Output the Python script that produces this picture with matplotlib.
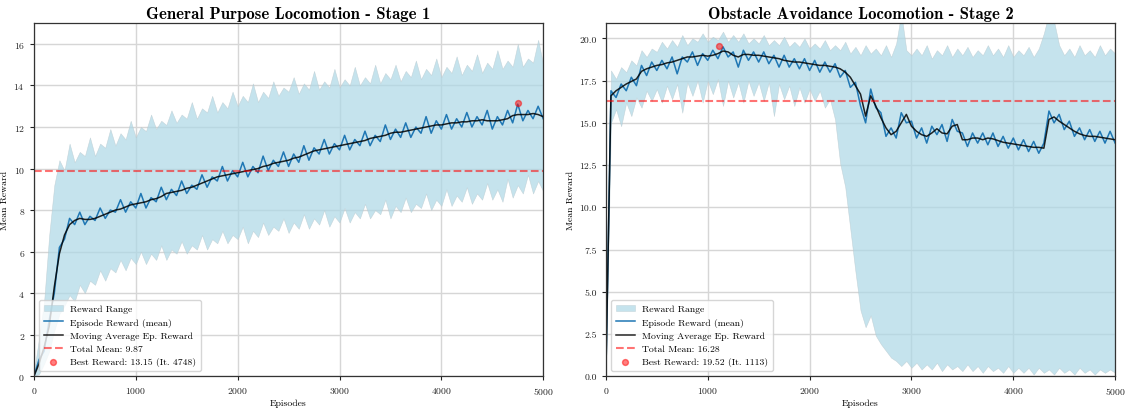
import numpy as np
import matplotlib
matplotlib.use("Agg")
import matplotlib.pyplot as plt

plt.rcParams['font.family'] = ['cmr10', 'DejaVu Serif']
plt.rcParams['axes.formatter.use_mathtext'] = True
plt.rcParams['mathtext.fontset'] = 'cm'

episodes = np.arange(0, 5001, 50)

# ---- Stage 1 : General Purpose Locomotion ----
s1_mean = [0.0, 0.8, 1.2, 2.7, 4.0, 6.2, 6.6, 7.6, 7.3, 7.9, 7.3, 7.7, 7.5, 8.1, 7.6, 8.0, 7.9, 8.5, 7.9, 8.4,
           8.1, 8.8, 8.1, 8.6, 8.4, 9.1, 8.5, 9.0, 8.7, 9.4, 8.8, 9.2, 9.0, 9.7, 9.1, 9.6, 9.4, 10.1, 9.4, 9.9,
           9.6, 10.3, 9.6, 10.1, 9.8, 10.6, 9.9, 10.4, 10.1, 10.8, 10.1, 10.7, 10.3, 11.1, 10.4, 11.0, 10.7, 11.4, 10.7, 11.2,
           10.9, 11.6, 10.9, 11.4, 11.1, 11.8, 11.1, 11.6, 11.3, 12.1, 11.4, 11.9, 11.5, 12.2, 11.5, 12.0, 11.7, 12.5, 11.7, 12.3,
           11.9, 12.6, 11.9, 12.4, 12.0, 12.7, 12.0, 12.5, 12.1, 12.8, 11.9, 12.5, 12.1, 12.8, 12.2, 13.1, 12.3, 12.8, 12.4, 13.0,
           12.4]
s1_ma = [0.0, 0.6, 1.4, 2.4, 4.3, 5.9, 6.8, 7.3, 7.5, 7.6, 7.55, 7.55, 7.6, 7.7, 7.8, 7.9, 8.0, 8.05, 8.15, 8.25,
         8.3, 8.35, 8.4, 8.5, 8.55, 8.65, 8.8, 8.85, 8.9, 8.95, 9.05, 9.1, 9.2, 9.3, 9.4, 9.5, 9.6, 9.65, 9.7, 9.75,
         9.8, 9.85, 9.9, 9.95, 10.0, 10.1, 10.15, 10.25, 10.3, 10.35, 10.4, 10.5, 10.55, 10.65, 10.75, 10.85, 10.9, 10.95, 11.0, 11.05,
         11.1, 11.15, 11.2, 11.25, 11.3, 11.35, 11.45, 11.5, 11.55, 11.6, 11.7, 11.75, 11.75, 11.8, 11.85, 11.9, 11.95, 12.0, 12.05, 12.1,
         12.1, 12.15, 12.2, 12.2, 12.25, 12.25, 12.3, 12.3, 12.35, 12.3, 12.3, 12.3, 12.35, 12.4, 12.55, 12.6, 12.6, 12.6, 12.65, 12.6,
         12.5]
s1_max = [0.2, 1.8, 3.6, 6.8, 9.2, 10.4, 9.9, 11.2, 10.3, 10.8, 10.6, 11.5, 10.6, 11.2, 11.0, 11.9, 11.1, 11.7, 11.4, 12.3,
          11.5, 12.0, 11.8, 12.6, 11.9, 12.3, 12.1, 12.8, 12.2, 12.6, 12.4, 13.2, 12.4, 12.9, 12.7, 13.5, 12.7, 13.2, 12.9, 13.7,
          13.0, 13.5, 13.2, 14.1, 13.2, 13.7, 13.4, 14.2, 13.5, 13.9, 13.7, 14.4, 13.6, 14.1, 13.8, 14.7, 13.8, 14.2, 13.9, 14.8,
          13.9, 14.3, 14.0, 14.9, 14.0, 14.4, 14.1, 15.0, 14.1, 14.6, 14.3, 15.0, 14.2, 14.7, 14.4, 15.2, 14.3, 14.8, 14.5, 15.3,
          14.4, 14.9, 14.6, 15.4, 14.5, 15.0, 14.7, 15.5, 14.6, 15.1, 14.8, 15.7, 14.8, 15.2, 14.9, 16.0, 14.9, 15.3, 15.1, 16.2,
          15.0]
s1_min = [0.0, 0.1, 0.6, 1.2, 2.2, 3.0, 3.4, 3.9, 3.6, 4.4, 4.0, 4.6, 4.4, 5.1, 4.6, 5.2, 5.0, 5.6, 5.1, 5.7,
          5.4, 6.0, 5.4, 5.9, 5.6, 6.3, 5.6, 6.1, 5.9, 6.5, 5.9, 6.3, 6.1, 6.8, 6.1, 6.6, 6.4, 7.0, 6.4, 6.8,
          6.6, 7.2, 6.4, 7.0, 6.7, 7.4, 6.8, 7.2, 7.0, 7.6, 6.9, 7.4, 7.1, 7.8, 7.1, 7.6, 7.3, 8.0, 7.2, 7.7,
          7.4, 8.1, 7.4, 7.9, 7.6, 8.3, 7.6, 8.0, 7.8, 8.5, 7.6, 8.2, 7.9, 8.6, 7.9, 8.3, 8.1, 8.8, 8.0, 8.5,
          8.2, 9.0, 8.2, 8.7, 8.4, 9.1, 8.3, 8.8, 8.5, 9.3, 8.5, 9.0, 8.4, 9.5, 8.6, 9.2, 8.8, 9.7, 8.8, 9.4,
          8.9]
s1_total_mean = 9.87
s1_best_ep, s1_best = 4748, 13.15

# ---- Stage 2 : Obstacle Avoidance Locomotion ----
s2_mean = [0.0, 16.9, 16.5, 17.3, 16.9, 17.7, 17.2, 18.4, 17.8, 18.6, 18.1, 18.7, 18.2, 18.9, 17.9, 18.9, 18.6, 19.2, 18.4, 19.1,
           18.7, 19.3, 18.8, 19.5, 18.9, 19.2, 18.3, 19.3, 18.7, 19.2, 18.6, 19.2, 18.5, 19.0, 18.3, 19.0, 18.3, 18.8, 18.2, 18.8,
           18.1, 18.7, 18.0, 18.6, 18.0, 18.5, 17.7, 18.1, 17.1, 17.4, 16.0, 15.0, 17.0, 15.9, 15.6, 14.2, 14.7, 14.1, 15.6, 15.0,
           15.1, 14.1, 14.7, 13.8, 14.8, 14.3, 14.9, 13.9, 15.2, 14.5, 14.4, 13.6, 14.4, 13.8, 14.4, 13.7, 14.4, 13.6, 14.2, 13.5,
           14.1, 13.4, 14.0, 13.3, 13.9, 13.2, 13.8, 15.7, 15.0, 15.5, 14.6, 15.1, 14.2, 14.7, 14.0, 14.6, 13.9, 14.5, 13.8, 14.5,
           13.8]
s2_ma = [0.0, 16.6, 16.9, 17.1, 17.3, 17.45, 17.6, 18.05, 18.2, 18.3, 18.4, 18.45, 18.55, 18.6, 18.7, 18.8, 18.9, 18.9, 18.95, 19.0,
         18.95, 19.0, 19.1, 19.25, 19.2, 19.0, 18.9, 19.05, 19.05, 19.0, 19.0, 18.95, 18.9, 18.85, 18.8, 18.7, 18.65, 18.6, 18.6, 18.55,
         18.5, 18.45, 18.4, 18.4, 18.35, 18.3, 18.2, 18.0, 17.7, 17.2, 16.7, 15.4, 16.6, 16.0, 15.3, 14.7, 14.3, 14.5, 15.0, 15.5,
         14.8, 14.5, 14.3, 14.2, 14.4, 14.65, 14.4, 14.35, 14.8, 14.9, 14.0, 14.0, 14.1, 14.1, 14.0, 14.1, 14.05, 13.95, 13.85, 13.8,
         13.75, 13.7, 13.65, 13.6, 13.55, 13.55, 13.5, 15.2, 15.35, 15.1, 14.9, 14.7, 14.5, 14.35, 14.25, 14.2, 14.2, 14.15, 14.1, 14.05,
         14.0]
s2_max = [0.0, 18.1, 17.6, 18.3, 18.0, 18.7, 18.4, 19.3, 18.9, 19.4, 19.2, 19.8, 19.4, 19.9, 19.5, 20.2, 19.6, 20.0, 19.8, 20.3,
          19.8, 20.1, 19.9, 20.4, 19.8, 20.2, 19.8, 20.3, 19.7, 20.0, 19.7, 20.2, 19.6, 19.9, 19.6, 20.1, 19.5, 19.8, 19.5, 20.0,
          19.4, 19.7, 19.4, 19.9, 19.3, 19.6, 19.3, 19.8, 19.1, 19.5, 19.0, 19.6, 19.1, 19.4, 19.0, 19.6, 18.9, 19.7, 21.5, 19.3,
          19.0, 19.4, 19.0, 19.6, 18.8, 19.3, 19.0, 19.6, 18.9, 19.4, 19.0, 19.5, 18.9, 19.3, 19.0, 19.6, 19.0, 19.4, 18.9, 19.6,
          18.9, 19.3, 19.0, 19.5, 18.9, 19.4, 20.3, 21.5, 21.0, 19.6, 19.0, 19.4, 18.9, 19.6, 19.0, 19.3, 18.9, 19.6, 19.0, 19.4,
          19.1]
s2_min = [0.0, 15.0, 15.8, 14.8, 16.2, 15.4, 16.5, 15.9, 16.9, 16.3, 17.0, 16.2, 17.2, 16.4, 17.3, 15.6, 17.4, 16.6, 17.5, 16.2,
          17.5, 16.7, 17.6, 16.0, 17.5, 16.5, 17.4, 16.2, 17.5, 16.6, 17.4, 16.3, 17.4, 15.4, 17.3, 16.4, 17.2, 16.0, 17.1, 16.2,
          17.0, 16.3, 16.9, 15.9, 16.4, 15.2, 12.6, 11.2, 8.7, 6.2, 3.9, 2.9, 3.6, 2.4, 1.9, 1.5, 1.1, 0.9, 0.6, 0.9,
          0.5, 0.8, 0.4, 0.7, 0.4, 0.8, 0.3, 0.7, 0.4, 0.6, 0.3, 0.7, 0.3, 0.6, 0.2, 0.6, 0.3, 0.5, 0.2, 0.6,
          0.2, 0.5, 0.2, 0.5, 0.1, 0.5, 0.2, 0.4, 0.1, 0.5, 0.2, 0.4, 0.1, 0.5, 0.2, 0.4, 0.1, 0.4, 0.2, 0.4,
          0.2]
s2_total_mean = 16.28
s2_best_ep, s2_best = 1113, 19.52


def plot_stage(ax, title, mean, ma, rmin, rmax, total_mean, best_ep, best, ylim, yticks):
    ax.fill_between(episodes, rmin, rmax, facecolor='lightblue', alpha=0.7,
                    edgecolor='#b9c9cf', linewidth=0.4, label='Reward Range')
    ax.plot(episodes, mean, color='#1f77b4', lw=1.1, label='Episode Reward (mean)')
    ax.plot(episodes, ma, color='black', lw=1.1, alpha=0.85, label='Moving Average Ep. Reward')
    ax.axhline(total_mean, color='red', ls='--', lw=1.5, alpha=0.55, label=f'Total Mean: {total_mean:.2f}')
    ax.scatter([best_ep], [best], color='red', s=18, alpha=0.5, zorder=5,
               label=f'Best Reward: {best:.2f} (It. {best_ep})')

    ax.set_xlim(0, 5000)
    ax.set_ylim(*ylim)
    ax.set_yticks(yticks)
    ax.set_xticks(np.arange(0, 5001, 1000))
    ax.grid(True, color='#d6d6d6', lw=1.0)
    ax.set_axisbelow(True)
    for sp in ax.spines.values():
        sp.set_color('#333333')
        sp.set_linewidth(0.9)
    ax.tick_params(labelsize=7, length=3, width=0.8, colors='#222222')
    ax.set_title(title, fontsize=12, fontfamily='cmb10', pad=4)
    ax.set_xlabel('Episodes', fontsize=7, labelpad=2)
    ax.set_ylabel('Mean Reward', fontsize=7, labelpad=3)
    ax.legend(loc='lower left', fontsize=7, framealpha=0.8, borderpad=0.5, labelspacing=0.45,
              handlelength=2.0, handletextpad=0.7, fancybox=True)


fig, (ax1, ax2) = plt.subplots(1, 2, figsize=(11.31, 4.10), dpi=100)
fig.subplots_adjust(left=0.030, right=0.986, top=0.941, bottom=0.080, wspace=0.123)

plot_stage(ax1, 'General Purpose Locomotion - Stage 1', s1_mean, s1_ma, s1_min, s1_max,
           s1_total_mean, s1_best_ep, s1_best, (0, 17), np.arange(0, 17, 2))
plot_stage(ax2, 'Obstacle Avoidance Locomotion - Stage 2', s2_mean, s2_ma, s2_min, s2_max,
           s2_total_mean, s2_best_ep, s2_best, (0, 20.9), np.arange(0, 20.1, 2.5))
ax2.yaxis.set_major_formatter(matplotlib.ticker.FormatStrFormatter('%.1f'))

fig.savefig('out.png', dpi=100)
